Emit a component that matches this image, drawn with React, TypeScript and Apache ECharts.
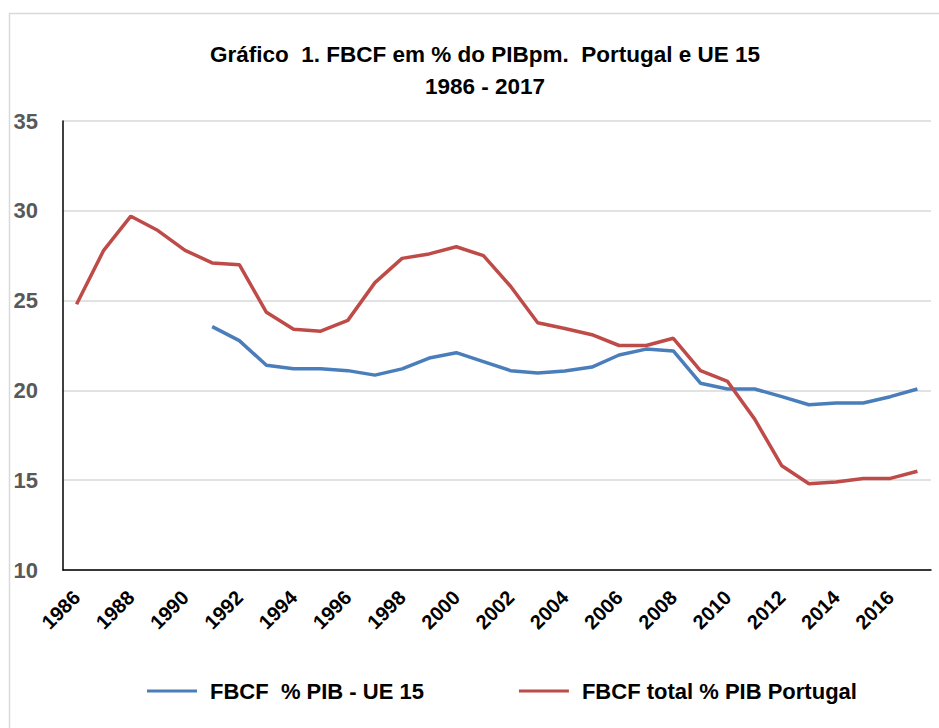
import React, { useEffect, useRef } from "react";
import * as echarts from "echarts";

const years = [
  "1986", "1987", "1988", "1989", "1990", "1991", "1992", "1993", "1994", "1995", "1996",
  "1997", "1998", "1999", "2000", "2001", "2002", "2003", "2004", "2005", "2006", "2007",
  "2008", "2009", "2010", "2011", "2012", "2013", "2014", "2015", "2016", "2017",
];

const ue15 = [
  null, null, null, null, null, 23.55, 22.77, 21.4, 21.2, 21.2, 21.1,
  20.85, 21.2, 21.8, 22.1, 21.6, 21.1, 20.97, 21.08, 21.3, 21.97, 22.3,
  22.2, 20.4, 20.08, 20.08, 19.65, 19.2, 19.3, 19.3, 19.65, 20.08,
];

const portugal = [
  24.8, 27.8, 29.7, 28.9, 27.8, 27.1, 27.0, 24.35, 23.4, 23.3, 23.9,
  26.0, 27.35, 27.6, 28.0, 27.5, 25.8, 23.77, 23.45, 23.1, 22.5, 22.5,
  22.9, 21.1, 20.5, 18.4, 15.8, 14.8, 14.9, 15.1, 15.1, 15.5,
];

const seriesNames = ["FBCF  % PIB - UE 15", "FBCF total % PIB Portugal"];
const titleLines = ["Gráfico  1. FBCF em % do PIBpm.  Portugal e UE 15", "1986 - 2017"];

const FONT = "'Liberation Sans', Arial, sans-serif";

export default function App() {
  const ref = useRef<HTMLDivElement>(null);
  useEffect(() => {
    if (!ref.current) return;
    const chart = echarts.init(ref.current, undefined, { renderer: "svg" });
    chart.setOption({
      animation: false,
      backgroundColor: "#ffffff",
      textStyle: { fontFamily: FONT },
      title: {
        text: titleLines.join("\n"),
        left: 480,
        top: 33,
        textAlign: "center",
        textStyle: {
          fontFamily: FONT,
          fontSize: 22.5,
          fontWeight: "bold",
          color: "#000000",
          lineHeight: 32,
        },
      },
      graphic: [
        {
          type: "rect",
          shape: { x: 9.5, y: 13.5, width: 1000, height: 800 },
          style: { fill: "none", stroke: "#d9d9d9", lineWidth: 1.5 },
          silent: true,
          z: -1,
        },
      ],
      legend: {
        data: seriesNames,
        top: 675,
        left: 142,
        itemWidth: 50,
        itemHeight: 3,
        itemGap: 95,
        icon: "rect",
        textStyle: {
          fontFamily: FONT,
          fontSize: 22,
          fontWeight: "bold",
          color: "#000000",
          padding: [0, 0, 0, 8],
        },
      },
      grid: { left: 63, right: 8, top: 121, bottom: 158, containLabel: false },
      xAxis: {
        type: "category",
        data: years,
        boundaryGap: true,
        axisLine: { show: true, lineStyle: { color: "#000000", width: 1.5 } },
        axisTick: { show: false },
        axisLabel: {
          interval: 1,
          rotate: 45,
          margin: 24,
          fontFamily: FONT,
          fontSize: 20,
          fontWeight: "bold",
          color: "#000000",
        },
      },
      yAxis: {
        type: "value",
        min: 10,
        max: 35,
        interval: 5,
        axisLine: { show: true, lineStyle: { color: "#000000", width: 1.5 } },
        axisTick: { show: false },
        splitLine: { lineStyle: { color: "#d9d9d9", width: 1.5 } },
        axisLabel: {
          margin: 25,
          fontFamily: FONT,
          fontSize: 22,
          fontWeight: "bold",
          color: "#595959",
        },
      },
      series: [
        {
          name: seriesNames[0],
          type: "line",
          data: ue15,
          symbol: "none",
          lineStyle: { color: "#4a7ebb", width: 3.5 },
          itemStyle: { color: "#4a7ebb" },
        },
        {
          name: seriesNames[1],
          type: "line",
          data: portugal,
          symbol: "none",
          lineStyle: { color: "#be4b48", width: 3.5 },
          itemStyle: { color: "#be4b48" },
        },
      ],
    });
    return () => chart.dispose();
  }, []);
  return (
    <div
      ref={ref}
      style={{ position: "fixed", left: 0, top: 0, width: 939, height: 728 }}
    />
  );
}
